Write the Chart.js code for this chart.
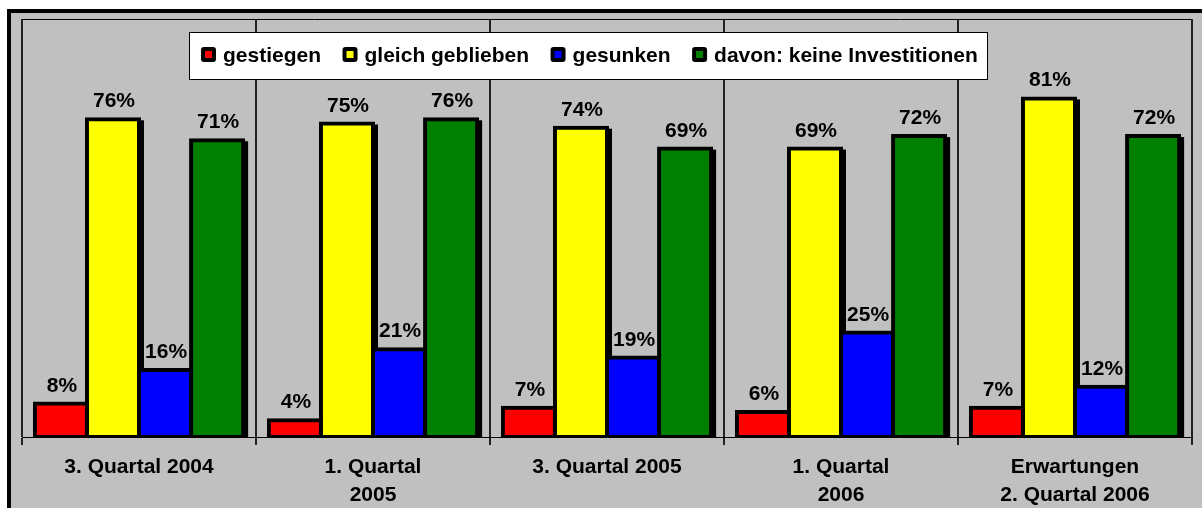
<!DOCTYPE html>
<html><head><meta charset="utf-8">
<script src="https://cdn.jsdelivr.net/npm/chart.js@4.4.0/dist/chart.umd.min.js"></script>
<style>html,body{margin:0;padding:0;background:#fff;overflow:hidden} #wrap{width:1202px;height:508px;}</style>
</head><body><div id="wrap"><canvas id="c" width="1202" height="508"></canvas></div>
<script>
const categories = [["3. Quartal 2004"], ["1. Quartal", "2005"], ["3. Quartal 2005"], ["1. Quartal", "2006"], ["Erwartungen", "2. Quartal 2006"]];
const seriesNames = ["gestiegen", "gleich geblieben", "gesunken", "davon: keine Investitionen"];
const gestiegen = [8, 4, 7, 6, 7];
const gleichGeblieben = [76, 75, 74, 69, 81];
const gesunken = [16, 21, 19, 25, 12];
const keineInvestitionen = [71, 76, 69, 72, 72];
const seriesColors = ['#FF0000', '#FFFF00', '#0000FF', '#008000'];

const FONT = "'Liberation Sans', Arial, sans-serif";
Chart.defaults.font.family = FONT;
const INFLATE = 2;

const bgPlugin = {
  id: 'bg',
  beforeDraw(chart) {
    const ctx = chart.ctx;
    ctx.save();
    ctx.fillStyle = '#fff';
    ctx.fillRect(0, 0, chart.width, chart.height);
    ctx.fillStyle = '#C0C0C0';
    ctx.fillRect(7, 9, chart.width, chart.height);
    ctx.strokeStyle = '#000';
    ctx.lineWidth = 4;
    ctx.strokeRect(9, 11, chart.width + 20, chart.height + 20);
    ctx.restore();
  }
};

const shadowPlugin = {
  id: 'shadows',
  beforeDatasetsDraw(chart) {
    const ctx = chart.ctx, a = chart.chartArea;
    ctx.save();
    ctx.beginPath();
    ctx.rect(a.left, a.top, a.right - a.left, a.bottom - a.top);
    ctx.clip();
    ctx.fillStyle = '#000';
    chart.data.datasets.forEach((ds, i) => {
      chart.getDatasetMeta(i).data.forEach(el => {
        const p = el.getProps(['x', 'y', 'base', 'width'], true);
        ctx.fillRect(p.x - p.width / 2 - INFLATE + 3, p.y - INFLATE + 3, p.width + 2 * INFLATE, p.base - p.y + 2 * INFLATE);
      });
    });
    ctx.restore();
    ctx.save();
    ctx.strokeStyle = '#000';
    ctx.lineWidth = 1;
    ctx.beginPath();
    ctx.moveTo(a.left, a.top + 0.5);
    ctx.lineTo(a.right, a.top + 0.5);
    ctx.stroke();
    ctx.restore();
  }
};

const labelPlugin = {
  id: 'valueLabels',
  afterDatasetsDraw(chart) {
    const ctx = chart.ctx;
    ctx.save();
    ctx.font = 'bold 21px ' + FONT;
    ctx.fillStyle = '#000';
    ctx.textAlign = 'center';
    ctx.textBaseline = 'alphabetic';
    chart.data.datasets.forEach((ds, i) => {
      chart.getDatasetMeta(i).data.forEach((el, j) => {
        const p = el.getProps(['x', 'y'], true);
        ctx.fillText(ds.data[j] + '%', p.x + 1, p.y - 12);
      });
    });
    ctx.restore();
  }
};

const legendPlugin = {
  id: 'customLegend',
  afterDraw(chart) {
    const ctx = chart.ctx;
    ctx.save();
    ctx.fillStyle = '#fff';
    ctx.fillRect(189, 32, 798, 47);
    ctx.strokeStyle = '#000';
    ctx.lineWidth = 1;
    ctx.strokeRect(189.5, 32.5, 798, 47);
    ctx.font = 'bold 21px ' + FONT;
    ctx.textBaseline = 'middle';
    ctx.textAlign = 'left';
    let x = 201;
    chart.data.datasets.forEach((ds, i) => {
      ctx.fillStyle = '#000';
      ctx.beginPath();
      ctx.roundRect(x, 47, 15, 15, 3);
      ctx.fill();
      ctx.fillStyle = ds.backgroundColor;
      ctx.fillRect(x + 4, 51, 7, 7);
      ctx.fillStyle = '#000';
      ctx.fillText(ds.label, x + 22, 56);
      x += 22 + ctx.measureText(ds.label).width + 21.5;
    });
    ctx.restore();
  }
};

const seriesData = [gestiegen, gleichGeblieben, gesunken, keineInvestitionen];

new Chart(document.getElementById('c'), {
  type: 'bar',
  data: {
    labels: categories,
    datasets: seriesNames.map((n, i) => ({
      label: n,
      data: seriesData[i],
      backgroundColor: seriesColors[i],
      borderColor: '#000',
      borderWidth: 4,
      borderSkipped: false,
      inflateAmount: INFLATE,
      clip: 0,
      barPercentage: 1.0,
      categoryPercentage: 0.89
    }))
  },
  options: {
    responsive: false,
    animation: false,
    devicePixelRatio: 1,
    layout: { padding: { left: 22, right: 10, top: 19, bottom: 0 } },
    plugins: { legend: { display: false }, tooltip: { enabled: false } },
    scales: {
      x: {
        grid: { display: true, offset: true, color: '#222', lineWidth: 2, drawTicks: true, tickLength: 8 },
        border: { display: true, color: '#000', width: 1 },
        ticks: { color: '#000', font: { size: 21, weight: 'bold', lineHeight: 1.3 }, padding: 9, maxRotation: 0, autoSkip: false },
        afterFit(s) { s.height = 71; }
      },
      y: { display: false, min: 0, max: 100 }
    }
  },
  plugins: [bgPlugin, shadowPlugin, labelPlugin, legendPlugin]
});
</script>
</body></html>
